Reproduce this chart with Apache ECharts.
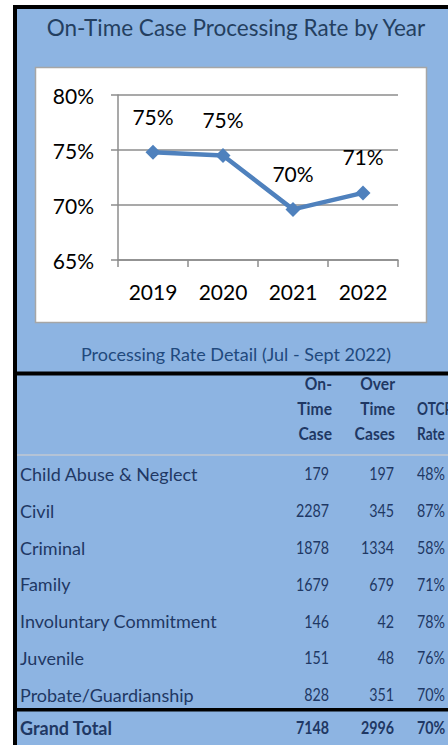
<!DOCTYPE html>
<html>
<head>
<meta charset="utf-8">
<script src="https://cdn.jsdelivr.net/npm/echarts@6/dist/echarts.min.js"></script>
<style>
html,body{margin:0;padding:0;background:#fff;}
#chart{width:448px;height:745px;}
</style>
</head>
<body>
<div id="chart"></div>
<script>
// ---- data ----
const years = ['2019', '2020', '2021', '2022'];
const onTimeRates = [74.8, 74.5, 69.6, 71.1];
const caseTypes = ['Child Abuse & Neglect', 'Civil', 'Criminal', 'Family', 'Involuntary Commitment', 'Juvenile', 'Probate/Guardianship'];
const onTimeCases = [179, 2287, 1878, 1679, 146, 151, 828];
const overTimeCases = [197, 345, 1334, 679, 42, 48, 351];
const otcpRates = ['48%', '87%', '58%', '71%', '78%', '76%', '70%'];
const totalLabel = 'Grand Total';
const totalOnTime = 7148;
const totalOverTime = 2996;
const totalRate = '70%';
const headerCol1 = ['On-', 'Time', 'Case'];
const headerCol2 = ['Over', 'Time', 'Cases'];
const headerCol3 = ['', 'OTCP', 'Rate'];
const chartTitle = 'On-Time Case Processing Rate by Year';
const tableTitle = 'Processing Rate Detail (Jul - Sept 2022)';

// ---- styles ----
const FONT = 'Lato, "Noto Sans", sans-serif';
const BLUE = '#8db4e2';
const NAVY = '#1f3864';
const TITLE = '#243f60';
const NUMSCALE = 0.84;

const chart = echarts.init(document.getElementById('chart'), null, {renderer: 'svg'});

function txt(x, y, text, font, align, sx) {
  return {type: 'text', z: 5, x: x, y: y, scaleX: sx || 1,
    style: {x: 0, y: 0, text: text, fill: NAVY, font: font + ' ' + FONT, textAlign: align, textVerticalAlign: 'middle'}};
}

const g = [];
// backgrounds & borders
g.push({type: 'rect', z: -10, shape: {x: 0, y: 0, width: 448, height: 745}, style: {fill: '#ffffff'}});
g.push({type: 'rect', z: -9, shape: {x: 13, y: 5, width: 440, height: 745}, style: {fill: '#000000'}});
g.push({type: 'rect', z: -8, shape: {x: 17, y: 9, width: 440, height: 362.5}, style: {fill: BLUE}});
g.push({type: 'rect', z: -8, shape: {x: 17, y: 375.5, width: 440, height: 380}, style: {fill: BLUE}});
g.push({type: 'rect', z: -7, shape: {x: 35.5, y: 67.5, width: 391, height: 255}, style: {fill: '#ffffff', stroke: '#a6a6a6', lineWidth: 1.5}});
// titles
const t1 = txt(236, 27, chartTitle, '22.5px', 'center'); t1.style.fill = TITLE; g.push(t1);
const t2 = txt(236, 354, tableTitle, '18px', 'center'); t2.style.fill = '#1f497d'; g.push(t2);
// header
const headY0 = 383, headStep = 25;
for (let i = 0; i < 3; i++) {
  const y = headY0 + i * headStep;
  g.push(txt(332, y, headerCol1[i], 'bold 17px', 'right', 0.92));
  g.push(txt(395, y, headerCol2[i], 'bold 17px', 'right', 0.92));
  if (headerCol3[i]) g.push(txt(417, y, headerCol3[i], 'bold 17px', 'left', 0.8));
}
g.push({type: 'rect', z: 4, shape: {x: 17, y: 454, width: 440, height: 2}, style: {fill: '#b4c3d6'}});
// rows
const rowY0 = 474, rowStep = 36.8;
caseTypes.forEach((name, i) => {
  const y = rowY0 + i * rowStep;
  g.push(txt(20, y, name, '18px', 'left'));
  g.push(txt(329, y, String(onTimeCases[i]), '17px', 'right', NUMSCALE));
  g.push(txt(394, y, String(overTimeCases[i]), '17px', 'right', NUMSCALE));
  g.push(txt(417, y, otcpRates[i], '17px', 'left', NUMSCALE));
});
g.push({type: 'rect', z: 4, shape: {x: 17, y: 708, width: 440, height: 3.5}, style: {fill: '#000000'}});
const ty = 728;
g.push(txt(20, ty, totalLabel, 'bold 18px', 'left'));
g.push(txt(329, ty, String(totalOnTime), 'bold 17px', 'right', NUMSCALE));
g.push(txt(394, ty, String(totalOverTime), 'bold 17px', 'right', NUMSCALE));
g.push(txt(417, ty, totalRate, 'bold 17px', 'left', NUMSCALE));

const gridLine = '#8c8c8c';
chart.setOption({
  animation: false,
  backgroundColor: '#ffffff',
  textStyle: {fontFamily: FONT},
  graphic: {elements: g},
  grid: {left: 118, right: 50, top: 95, bottom: 485, containLabel: false},
  xAxis: {
    type: 'category',
    data: years,
    boundaryGap: true,
    axisLine: {show: true, lineStyle: {color: gridLine, width: 1.5}},
    axisTick: {show: true, length: 7, lineStyle: {color: gridLine, width: 1.5}},
    axisLabel: {color: '#000', fontSize: 21, fontFamily: FONT, margin: 21}
  },
  yAxis: {
    type: 'value',
    min: 65, max: 80, interval: 5,
    axisLine: {show: true, lineStyle: {color: gridLine, width: 1.5}},
    axisTick: {show: true, length: 7, lineStyle: {color: gridLine, width: 1.5}},
    splitLine: {show: true, lineStyle: {color: gridLine, width: 1.5}},
    axisLabel: {color: '#000', fontSize: 21, fontFamily: FONT, margin: 24, formatter: '{value}%'}
  },
  series: [{
    type: 'line',
    data: onTimeRates,
    z: 10,
    symbol: 'diamond',
    symbolSize: 15,
    lineStyle: {color: '#4f81bd', width: 4.5},
    itemStyle: {color: '#4f81bd'},
    label: {show: true, position: 'top', distance: 18, color: '#000', fontSize: 21, fontFamily: FONT,
      formatter: p => Math.round(p.value) + '%'}
  }]
});
</script>
</body>
</html>
